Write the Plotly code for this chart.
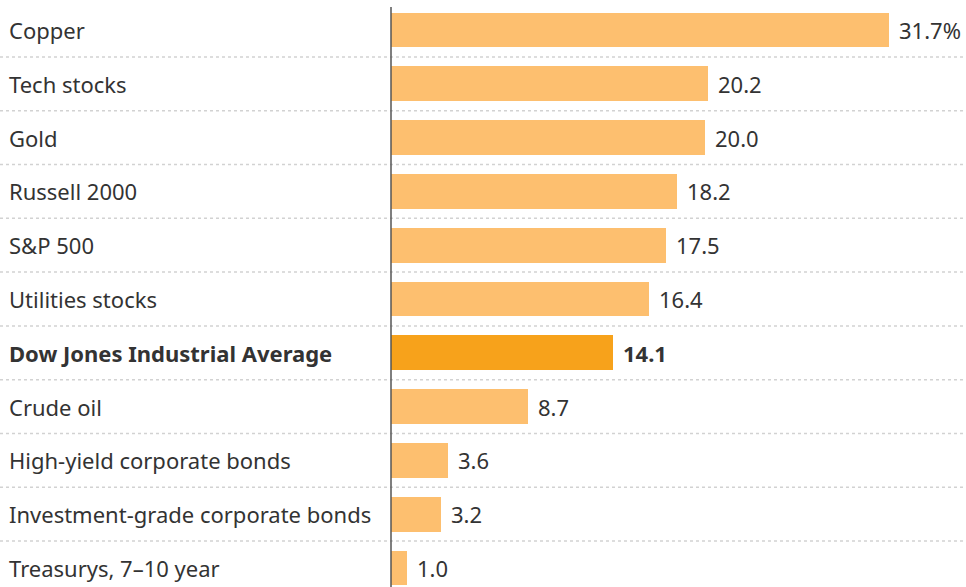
import plotly.graph_objects as go

categories = ["Copper", "Tech stocks", "Gold", "Russell 2000", "S&P 500",
              "Utilities stocks", "Dow Jones Industrial Average", "Crude oil",
              "High-yield corporate bonds", "Investment-grade corporate bonds",
              "Treasurys, 7–10 year"]
values = [31.7, 20.2, 20.0, 18.2, 17.5, 16.4, 14.1, 8.7, 3.6, 3.2, 1.0]
value_labels = ["31.7%", "20.2", "20.0", "18.2", "17.5", "16.4", "14.1",
                "8.7", "3.6", "3.2", "1.0"]
highlight = "Dow Jones Industrial Average"

W, H = 966, 587
x0_px = 391
px_per_unit = (889 - 391) / 31.7
row_px = 53.8
first_center = 30

xmin = -x0_px / px_per_unit
xmax = (W - x0_px) / px_per_unit
ytop = -first_center / row_px
ybot = (H - first_center) / row_px

n = len(categories)
ypos = list(range(n))
colors = ["#F7A21B" if c == highlight else "#FDBF6F" for c in categories]

fig = go.Figure()
fig.add_trace(go.Bar(
    x=values, y=ypos, orientation="h", marker=dict(color=colors, line=dict(width=0)),
    width=0.65, hoverinfo="skip", showlegend=False,
))

font_family = "Noto Sans, Open Sans, sans-serif"
shapes = []
annotations = []
for i, (c, v, lab) in enumerate(zip(categories, values, value_labels)):
    bold = c == highlight
    annotations.append(dict(
        xref="paper", yref="y", x=7 / W, y=i, xanchor="left", yanchor="middle",
        text=f"<b>{c}</b>" if bold else c, showarrow=False,
        font=dict(family=font_family, size=22, color="#333333"),
    ))
    annotations.append(dict(
        xref="x", yref="y", x=v, y=i, xanchor="left", yanchor="middle",
        xshift=8, text=f"<b>{lab}</b>" if bold else lab, showarrow=False,
        font=dict(family=font_family, size=22, color="#333333"),
    ))
    if i < n - 1:
        shapes.append(dict(
            type="line", xref="paper", yref="y", x0=0, x1=1, y0=i + 0.5, y1=i + 0.5,
            line=dict(color="#d2d2d2", width=1.5, dash="dot"), layer="below",
        ))

shapes.append(dict(
    type="line", xref="x", yref="paper", x0=0, x1=0, y0=0, y1=1 - 7 / H,
    line=dict(color="#555555", width=1.5), layer="above",
))

fig.update_layout(
    width=W, height=H,
    margin=dict(l=0, r=0, t=0, b=0),
    paper_bgcolor="white", plot_bgcolor="white",
    xaxis=dict(range=[xmin, xmax], visible=False, fixedrange=True),
    yaxis=dict(range=[ybot, ytop], visible=False, fixedrange=True),
    shapes=shapes, annotations=annotations, bargap=0,
)

fig.write_html("out.html", config={"displayModeBar": False},
               post_script="document.body.style.margin='0';document.body.style.overflow='hidden';")
